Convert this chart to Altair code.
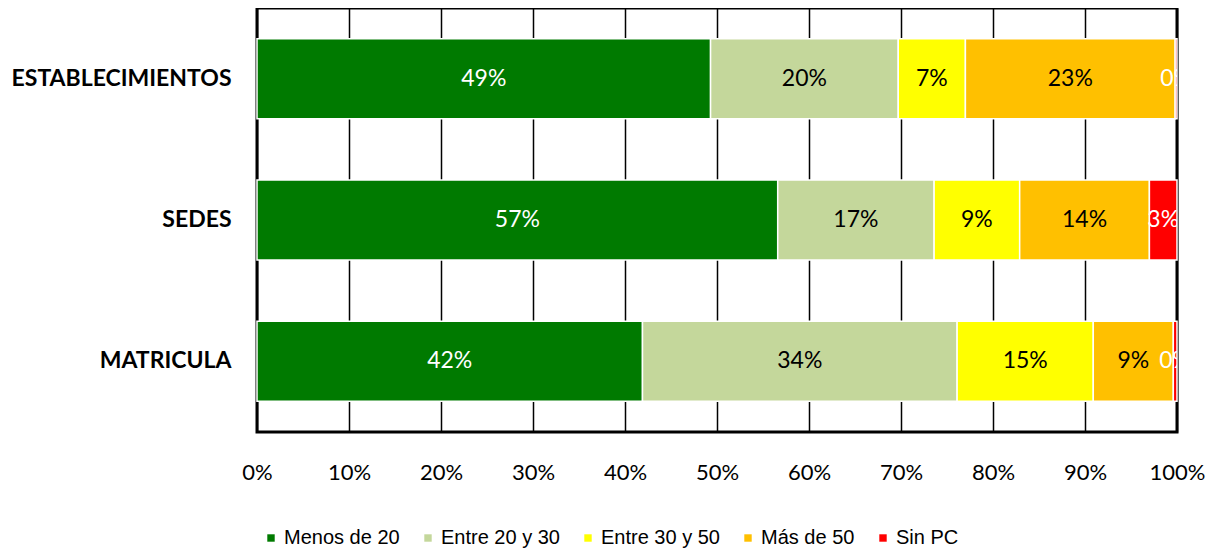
import altair as alt
import pandas as pd

categories = ["ESTABLECIMIENTOS", "SEDES", "MATRICULA"]
series = ["Menos de 20", "Entre 20 y 30", "Entre 30 y 50", "Más de 50", "Sin PC"]
colors = ["#007A00", "#C4D79B", "#FFFF00", "#FFC000", "#FF0000"]
label_colors = ["white", "black", "black", "black", "white"]
values = {
    "ESTABLECIMIENTOS": [49.3, 20.4, 7.3, 22.8, 0.2],
    "SEDES": [56.6, 17.0, 9.3, 14.1, 3.0],
    "MATRICULA": [41.9, 34.2, 14.8, 8.7, 0.4],
}
x_ticks = [0, 10, 20, 30, 40, 50, 60, 70, 80, 90, 100]

rows = []
for c in categories:
    for i, s in enumerate(series):
        rows.append({"cat": c, "serie": s, "idx": i, "value": values[c][i],
                     "lcolor": label_colors[i]})
df = pd.DataFrame(rows)

base = alt.Chart(df).transform_stack(
    stack="value", groupby=["cat"], as_=["x0", "x1"], sort=[alt.SortField("idx")]
).transform_calculate(
    mid="(datum.x0 + datum.x1) / 2",
    lab="round(datum.value) + '%'",
)

yenc = alt.Y("cat:N", sort=categories, title=None,
             scale=alt.Scale(paddingInner=0.434, paddingOuter=0.217),
             axis=alt.Axis(labelFont="Lato", labelFontWeight="bold", labelFontSize=23,
                           labelColor="black", labelPadding=26, labelLimit=0, ticks=False,
                           domain=False, grid=False))

bars = base.mark_bar(stroke="white", strokeWidth=1.5).encode(
    x=alt.X("x0:Q", scale=alt.Scale(domain=[0, 100], nice=False), title=None,
            axis=alt.Axis(values=x_ticks, labelExpr="datum.value + '%'",
                          labelFont="Lato", labelFontSize=22, labelColor="black",
                          labelPadding=30, labelFlush=False, labelOverlap=False,
                          ticks=False, domain=False,
                          grid=True, gridColor="black", gridWidth=1.5, gridOpacity=1)),
    x2="x1:Q",
    y=yenc,
    color=alt.Color("serie:N", sort=series,
                    scale=alt.Scale(domain=series, range=colors),
                    legend=alt.Legend(title=None, orient="none", direction="horizontal",
                                      columns=5, legendX=4, legendY=520,
                                      symbolType="square", symbolSize=55,
                                      symbolStrokeWidth=0, labelFont="Liberation Sans",
                                      labelFontSize=20, labelColor="black",
                                      labelOffset=3, columnPadding=18)),
    order=alt.Order("idx:Q"),
)

texts = base.mark_text(font="Lato", fontSize=23, clip=True).encode(
    x=alt.X("mid:Q"),
    y=alt.Y("cat:N", sort=categories),
    text="lab:N",
    color=alt.Color("lcolor:N", scale=None),
)

chart = alt.layer(bars, texts).properties(
    width=920, height=424,
    autosize=alt.AutoSizeParams(type="none"),
    padding={"left": 249, "top": 0, "right": 31, "bottom": 117},
).configure_view(stroke="black", strokeWidth=3)

chart.save("out.html", embed_options={"renderer": "svg", "actions": False})
